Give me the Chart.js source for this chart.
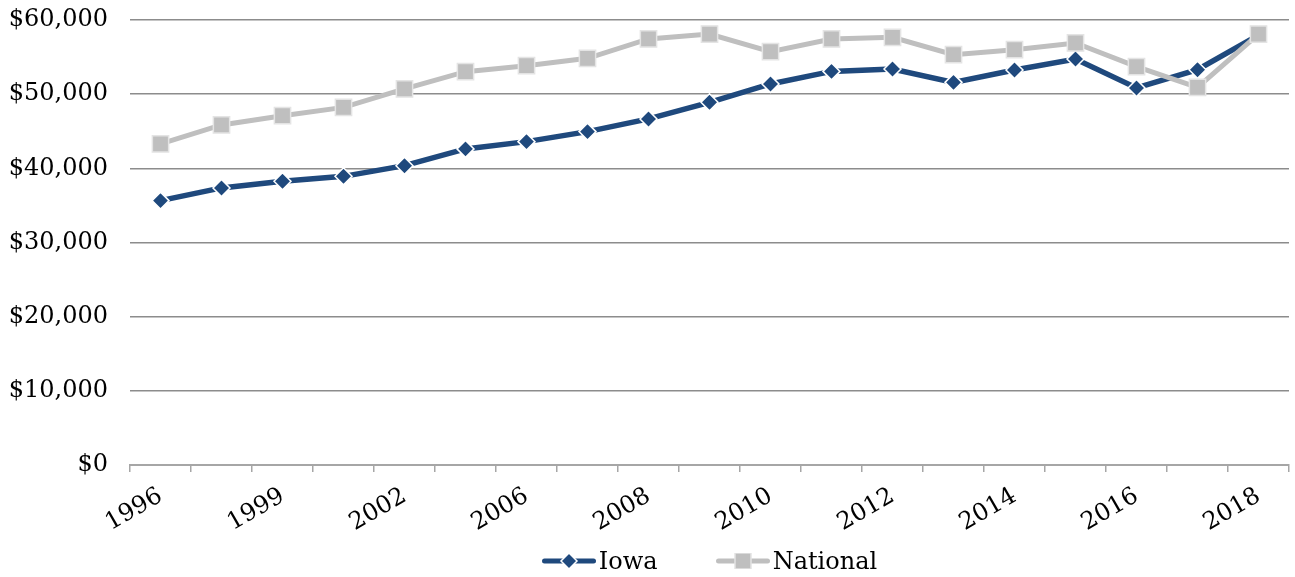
<!DOCTYPE html>
<html>
<head>
<meta charset="utf-8">
<script src="https://cdn.jsdelivr.net/npm/chart.js@4.4.1/dist/chart.umd.min.js"></script>
<style>
  html, body { margin: 0; padding: 0; background: #fff; }
  #wrap { position: relative; width: 1295px; height: 577px; }
  #legend {
    position: absolute; left: 130px; width: 1159px; top: 546px; height: 30px;
    display: flex; justify-content: center; align-items: center;
    font-family: "DejaVu Serif", serif; font-size: 24px; color: #000;
  }
  .item { display: flex; align-items: center; }
  .item + .item { margin-left: 58px; }
  .item svg { margin-right: 3px; }
</style>
</head>
<body>
<div id="wrap">
  <canvas id="myChart"></canvas>
  <div id="legend"></div>
</div>
<script>
// categories (every other one is labelled on the axis)
let years = ["1996", "1998", "1999", "2000", "2002", "2004", "2006", "2007", "2008", "2009",
             "2010", "2011", "2012", "2013", "2014", "2015", "2016", "2017", "2018"];
let shownYears = ["1996", "1999", "2002", "2006", "2008", "2010", "2012", "2014", "2016", "2018"];

// series values
let iowa = [35650, 37360, 38250, 38920, 40360, 42620, 43600, 44950, 46660, 48900,
            51380, 53070, 53400, 51590, 53260, 54740, 50840, 53300, 57950];
let national = [43290, 45850, 47100, 48220, 50700, 53030, 53840, 54830, 57440, 58110,
                55730, 57440, 57660, 55320, 56000, 56900, 53710, 50920, 58110];

// y axis
let yMin = 0;
let yMax = 60000;
let yStep = 10000;

let iowaColor = "#1F497D";
let nationalColor = "#BFBFBF";

Chart.defaults.font.family = '"DejaVu Serif", serif';
Chart.defaults.font.size = 24;
Chart.defaults.color = "#000000";

let config = {
  type: "line",
  data: {
    labels: years,
    datasets: [
      {
        label: "Iowa",
        data: iowa,
        borderColor: iowaColor,
        backgroundColor: iowaColor,
        borderWidth: 5.5,
        lineTension: 0,
        pointStyle: "rectRot",
        pointRadius: 8.5,
        pointHoverRadius: 8.5,
        pointBackgroundColor: iowaColor,
        pointBorderColor: "#FFFFFF",
        pointBorderWidth: 1.5,
        order: 1,
      },
      {
        label: "National",
        data: national,
        borderColor: nationalColor,
        backgroundColor: nationalColor,
        borderWidth: 5,
        lineTension: 0,
        pointStyle: "rect",
        pointRadius: 11.5,
        pointHoverRadius: 11.5,
        pointBackgroundColor: nationalColor,
        pointBorderColor: "#E4E4E4",
        pointBorderWidth: 1.5,
        order: 0,
      },
    ],
  },
  options: {
    responsive: true,
    maintainAspectRatio: false,
    animation: false,
    events: [],
    layout: {
      autoPadding: false,
      padding: { left: 0, top: 20, right: 6, bottom: 0 },
    },
    plugins: {
      legend: { display: false },
      tooltip: { enabled: false },
    },
    scales: {
      x: {
        offset: true,
        grid: {
          display: true,
          drawOnChartArea: false,
          drawTicks: true,
          tickLength: 7,
          offset: true,
          color: "#A6A6A6",
          lineWidth: 1.5,
        },
        border: { display: true, color: "#A6A6A6", width: 2 },
        ticks: {
          autoSkip: false,
          minRotation: 30,
          maxRotation: 30,
          padding: 10,
          callback: function (value) {
            let lab = this.getLabelForValue(value);
            return shownYears.includes(lab) ? lab : "";
          },
        },
        afterFit: (scale) => {
          scale.height = 112;
          scale.paddingTop = 0;
          scale.paddingBottom = 0;
          scale.paddingLeft = 0;
          scale.paddingRight = 0;
        },
      },
      y: {
        min: yMin,
        max: yMax,
        ticks: {
          stepSize: yStep,
          padding: 22,
          callback: (v) => "$" + v.toLocaleString("en-US"),
        },
        grid: { color: "#8C8C8C", lineWidth: 1.5, drawTicks: false },
        border: { display: false },
        afterFit: (scale) => {
          scale.width = 130;
          scale.paddingTop = 0;
          scale.paddingBottom = 0;
        },
      },
    },
  },
};

// 凡例の線＋マーカー
function legendMarker(ds) {
  let shape;
  if (ds.pointStyle === "rectRot") {
    shape = '<polygon points="27,0 35,8 27,16 19,8" fill="' + ds.borderColor + '" stroke="#fff" stroke-width="1.5"/>';
  } else {
    shape = '<rect x="19" y="0" width="16" height="16" fill="' + ds.borderColor + '" stroke="#E4E4E4" stroke-width="1.5"/>';
  }
  return '<svg width="54" height="16" viewBox="0 0 54 16">' +
    '<line x1="2.5" y1="8" x2="51.5" y2="8" stroke="' + ds.borderColor + '" stroke-width="5" stroke-linecap="round"/>' +
    shape + "</svg>";
}

window.onload = function () {
  let ctx = document.getElementById("myChart").getContext("2d");
  window.myLine = new Chart(ctx, config);

  let legend = document.getElementById("legend");
  config.data.datasets.forEach((ds) => {
    let item = document.createElement("div");
    item.className = "item";
    item.innerHTML = legendMarker(ds) + "<span>" + ds.label + "</span>";
    legend.appendChild(item);
  });
};
</script>
</body>
</html>
